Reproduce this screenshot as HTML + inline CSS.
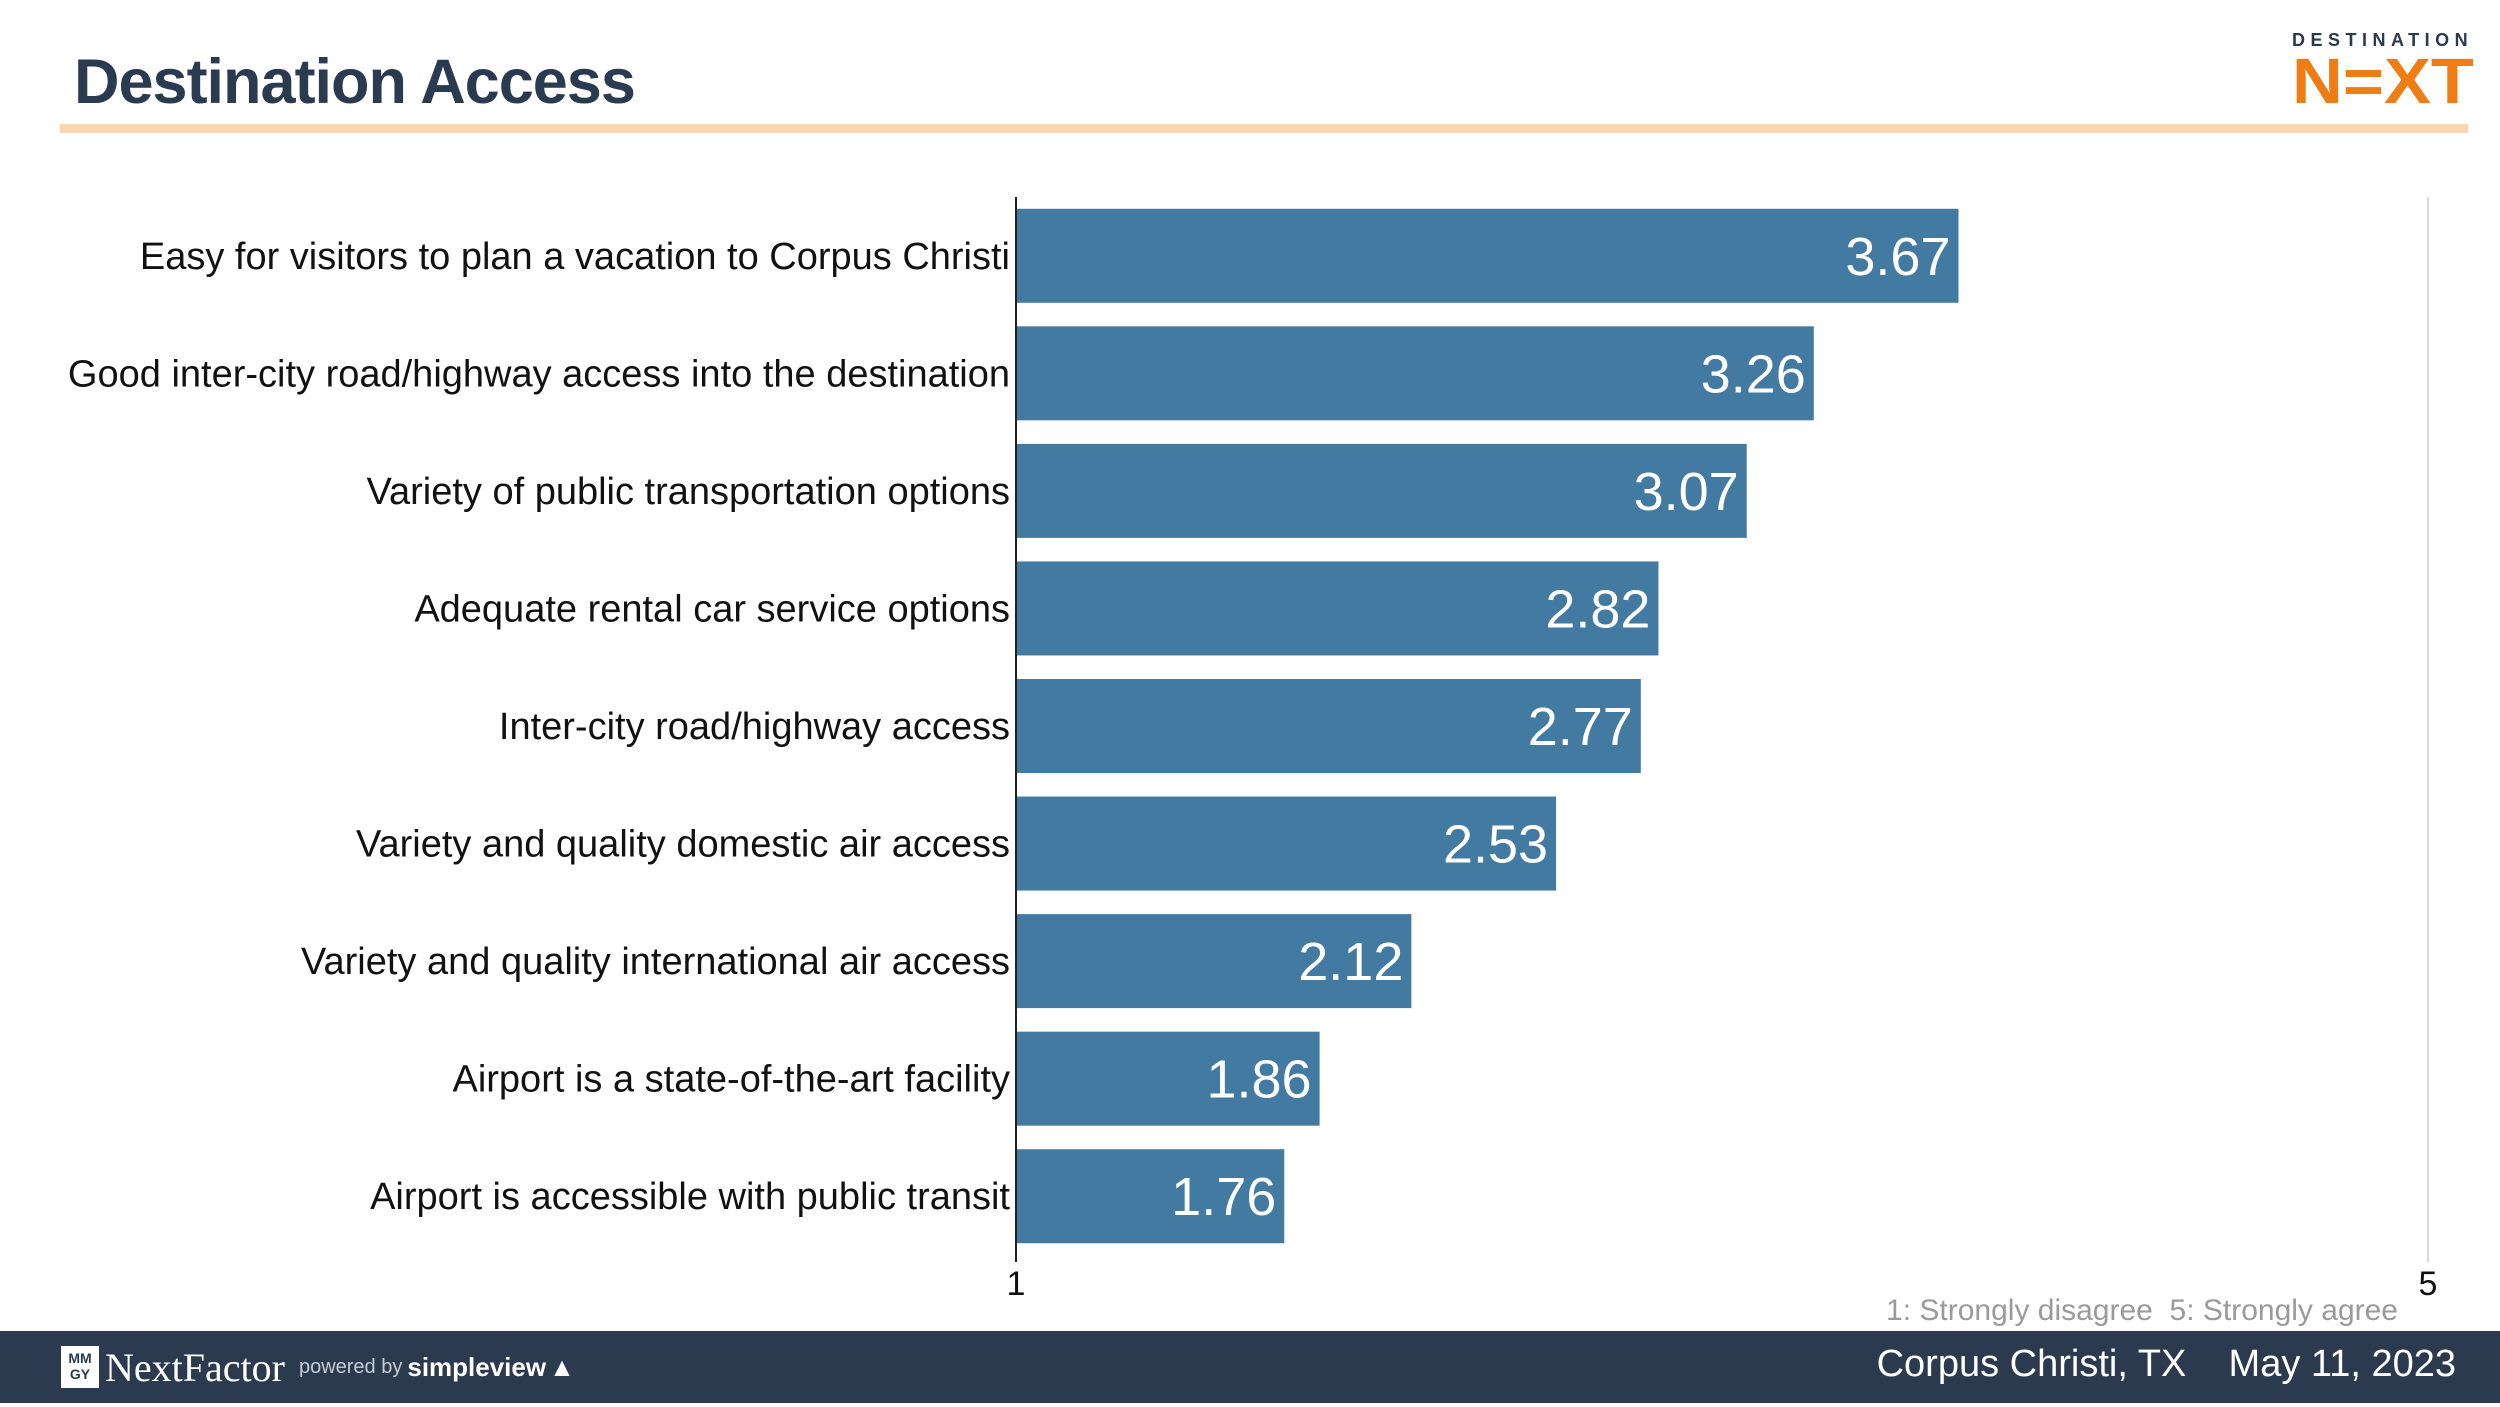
<!DOCTYPE html>
<html><head><meta charset="utf-8"><style>
body{margin:0;width:2500px;height:1407px;background:#fff;position:relative;overflow:hidden;font-family:"Liberation Sans",sans-serif}
.abs{position:absolute}
</style></head><body>
<div class="abs" style="left:74px;top:46px;font-size:63px;font-weight:bold;color:#2a3a50;letter-spacing:-1px">Destination Access</div>
<div class="abs" style="left:60px;top:124px;width:2408px;height:9px;background:#f9d5b0"></div>
<div class="abs" style="left:2292px;top:30px;width:180px;height:80px">
  <div style="font-size:18px;font-weight:bold;letter-spacing:5.5px;color:#2a3a50">DESTINATION</div>
  <div style="font-size:64px;font-weight:bold;color:#f07c14;line-height:60px;letter-spacing:0px;transform:scaleX(1.1);transform-origin:left">N=XT</div>
</div>
<svg class="abs" style="left:0;top:0" width="2500" height="1407" id="chart"></svg>
<div class="abs" style="right:102px;top:1294px;font-size:30px;color:#9a9a9a">1: Strongly disagree&nbsp; 5: Strongly agree</div>
<div class="abs" style="left:0;top:1331px;width:2500px;height:72px;background:#2b3a4f"></div>
<div class="abs" style="left:61px;top:1345px;height:44px;display:flex;align-items:center;color:#fff">
  <div style="width:38px;height:42px;background:#fff;color:#2b3a4f;font-size:14px;font-weight:bold;line-height:16px;text-align:center;padding-top:4px;box-sizing:border-box">MM<br>GY</div>
  <span style="font-family:'Liberation Serif',serif;font-size:40px;margin-left:6px">NextFactor</span>
  <span style="font-size:20px;color:#c8ccd4;margin-left:14px">powered by</span>
  <span style="font-size:26px;font-weight:bold;margin-left:5px">simpleview</span>
  <span style="font-size:26px;margin-left:3px">▲</span>
</div>
<div class="abs" style="right:44px;top:1343px;font-size:38px;color:#fff">Corpus Christi, TX&nbsp;&nbsp;&nbsp; May 11, 2023</div>
<script>
const categories=["Easy for visitors to plan a vacation to Corpus Christi","Good inter-city road/highway access into the destination","Variety of public transportation options","Adequate rental car service options","Inter-city road/highway access","Variety and quality domestic air access","Variety and quality international air access","Airport is a state-of-the-art facility","Airport is accessible with public transit"];
const values=[3.67,3.26,3.07,2.82,2.77,2.53,2.12,1.86,1.76];
const ticks=[1,5];
const svg=document.getElementById('chart');
const NS='http://www.w3.org/2000/svg';
const x0=1016,x1=2428,yTop=197,yBot=1255,axisBot=1262;
const xs=v=>x0+(v-1)/4*(x1-x0);
const band=(yBot-yTop)/categories.length;
const yc=i=>yTop+band*(i+0.5);
function mk(t,a){const e=document.createElementNS(NS,t);for(const k in a)e.setAttribute(k,a[k]);svg.appendChild(e);return e;}
let g=mk('line',{x1:x1,x2:x1,y1:yTop,y2:axisBot,stroke:'#d9d9d9','stroke-width':2});


values.forEach((v,i)=>{
  const r=mk('rect',{x:x0,y:yc(i)-47,width:xs(v)-x0,height:94,fill:'#427aa1'});
  
  
  const t=mk('text',{x:xs(v)-8,y:yc(i)+19,'text-anchor':'end','font-size':54,fill:'#fff','font-family':'Liberation Sans, sans-serif'});
  t.textContent=v.toFixed(2);
  
  
  const l=mk('text',{x:x0-6,y:yc(i)+13,'text-anchor':'end','font-size':38,fill:'#111','font-family':'Liberation Sans, sans-serif'});
  l.textContent=categories[i];
  
  
});
const ax=mk('line',{x1:x0,x2:x0,y1:yTop,y2:axisBot,stroke:'#222','stroke-width':2});


ticks.forEach(tv=>{
  const t=mk('text',{x:xs(tv),y:1295,'text-anchor':'middle','font-size':34,fill:'#111','font-family':'Liberation Sans, sans-serif'});
  t.textContent=tv;
  
  
});
</script>
</body></html>
